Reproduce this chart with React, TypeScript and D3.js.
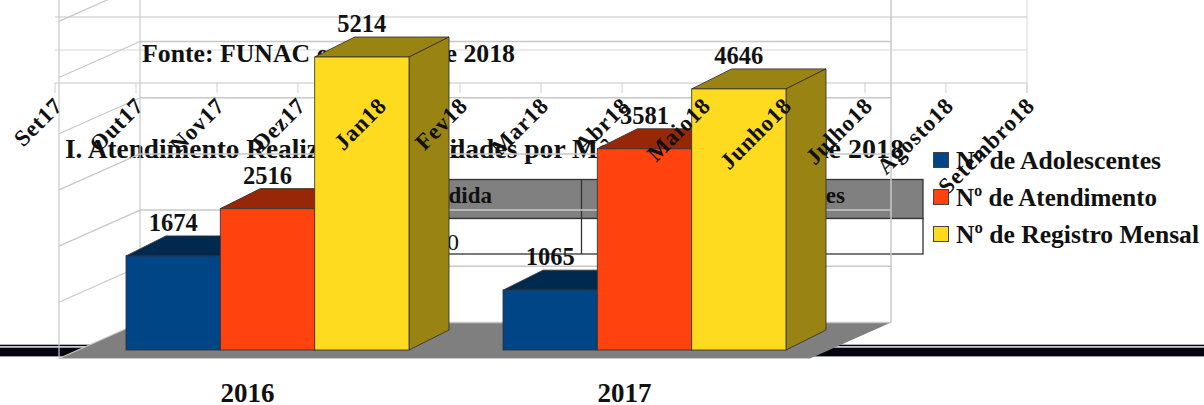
import React from "react";
import * as d3 from "d3";

const years = ["2016", "2017"];
const seriesNames = ["Nº de Adolescentes", "Nº de Atendimento", "Nº de Registro Mensal"];
const seriesColors = ["#004586", "#ff420e", "#ffdb20"];
const legendWidths = [205, 201, 243];
const values2016 = [1674, 2516, 5214];
const values2017 = [1065, 3581, 4646];
const valuesByYear = [values2016, values2017];
const gridValues = [0, 1000, 2000, 3000, 4000, 5000, 6000, 7000];
const monthLabels = ["Set17", "Out17", "Nov17", "Dez17", "Jan18", "Fev18", "Mar18", "Abr18", "Maio18", "Junho18", "Julho18", "Agosto18", "Setembro18"];
const backChartGrid = [17, 50, 83];
const sourceText = "Fonte: FUNAC em Junho de 2018";
const titleParts = ["I. Atendimento Realizado nas Uni", "dades por Mês", "Junho de 2018"];
const tableHeaders = ["Medida", "Adolescentes"];

const FONT = "'Liberation Serif', serif";
const GRID = "#c8c8c8";

const y = d3.scaleLinear().domain([0, 5214]).range([350, 57]);
const x0 = d3.scaleBand().domain(years).range([79, 833]);
const x1 = d3.scaleBand().domain(seriesNames).range([0, 283]);
const monthX = d3.scalePoint().domain(monthLabels).range([55, 1027]);
const DX = 40, DY = -20;
const wallOffset = 27.5;
const backY = (v: number) => y(v) - wallOffset;

const darker = (c: string) => d3.rgb(c).darker(1.45).formatHex();

export default function App() {
  const W0 = 59, W1 = 140, W2 = 891, WF = 810;
  const floorY = backY(0), frontY = floorY + 36;
  return (
    <svg width={1204} height={405} style={{ position: "absolute", left: 0, top: 0, display: "block", background: "#fff" }} fontFamily={FONT}>
      <rect x={0} y={344.7} width={1204} height={1.5} fill="#05050f" />
      <rect x={0} y={347.6} width={1204} height={8.8} fill="#05050f" />

      {backChartGrid.map((g, i) => (
        <line key={g} x1={55} x2={1027} y1={g} y2={g} stroke="#d8d8d8" strokeWidth={i === 1 ? 1 : 1.5} />
      ))}
      <line x1={1027} x2={1027} y1={0} y2={93} stroke="#d8d8d8" />
      {monthLabels.map((m) => (
        <line key={m} x1={monthX(m)} x2={monthX(m)} y1={83} y2={93} stroke="#d0d0d0" />
      ))}

      <rect x={400} y={179.5} width={523} height={39} fill="#808080" stroke="#333" strokeWidth={1.3} />
      <rect x={400} y={218.5} width={523} height={35.5} fill="#fff" stroke="#333" strokeWidth={1.3} />
      <line x1={581.5} x2={581.5} y1={179} y2={254} stroke="#333" strokeWidth={1.3} />
      <text x={492} y={203} textAnchor="end" fontSize={23} fontWeight="bold" fill="#111">{tableHeaders[0]}</text>
      <text x={845} y={203} textAnchor="end" fontSize={23} fontWeight="bold" fill="#111">{tableHeaders[1]}</text>
      <text x={459} y={250} textAnchor="end" fontSize={24} fill="#111">0</text>

      <text x={142} y={62} fontSize={26} fontWeight="bold" fill="#111" textLength={373} lengthAdjust="spacingAndGlyphs">{sourceText}</text>
      <text x={65} y={158} fontSize={28} fontWeight="bold" fill="#111" textLength={392} lengthAdjust="spacingAndGlyphs">{titleParts[0]}</text>
      <text x={450} y={158} fontSize={28} fontWeight="bold" fill="#111" textLength={171} lengthAdjust="spacingAndGlyphs">{titleParts[1]}</text>
      <text x={904} y={158} textAnchor="end" fontSize={28} fontWeight="bold" fill="#111">{titleParts[2]}</text>

      <polygon points={`${W0},${frontY} ${W1},${floorY} ${W2},${floorY} ${WF},${frontY}`} fill="#7f7f7f" />
      <line x1={W0} x2={W0} y1={0} y2={frontY} stroke={GRID} strokeWidth={1.2} />
      <line x1={W1} x2={W1} y1={0} y2={floorY} stroke={GRID} strokeWidth={1.2} />
      <line x1={W2} x2={W2} y1={0} y2={floorY} stroke={GRID} strokeWidth={1.5} />
      <line x1={W0} x2={WF} y1={frontY} y2={frontY} stroke={GRID} />
      {gridValues.map((v) => (
        <g key={v}>
          <line x1={W1} x2={W2} y1={backY(v)} y2={backY(v)} stroke={GRID} strokeWidth={1.5} />
          <line x1={W0} x2={W1} y1={backY(v) + 36} y2={backY(v)} stroke={GRID} strokeWidth={1.2} />
        </g>
      ))}

      {years.map((yr, yi) =>
        seriesNames.map((s, si) => {
          const v = valuesByYear[yi][si];
          const x = (x0(yr) as number) + (x0.bandwidth() - 283) / 2 + (x1(s) as number);
          const w = x1.bandwidth();
          const t = y(v), b = y(0);
          const c = seriesColors[si];
          return (
            <g key={yr + s} stroke="#333" strokeWidth={1} strokeOpacity={0.85}>
              <polygon points={`${x},${t} ${x + DX},${t + DY} ${x + w + DX},${t + DY} ${x + w},${t}`} fill={darker(c)} />
              <polygon points={`${x + w},${t} ${x + w + DX},${t + DY} ${x + w + DX},${b + DY} ${x + w},${b}`} fill={darker(c)} />
              <rect x={x} y={t} width={w} height={b - t} fill={c} />
            </g>
          );
        })
      )}

      {years.map((yr, yi) =>
        seriesNames.map((s, si) => {
          const v = valuesByYear[yi][si];
          const x = (x0(yr) as number) + (x0.bandwidth() - 283) / 2 + (x1(s) as number) + x1.bandwidth() / 2;
          return (
            <text key={yr + s} x={x} y={y(v) - 25} textAnchor="middle" fontSize={24.5} fontWeight="bold" fill="#111">{v}</text>
          );
        })
      )}

      {monthLabels.map((m) => (
        <text key={m} transform={`translate(${(monthX(m) as number) + 9},${107}) rotate(-45)`} textAnchor="end" fontSize={23} letterSpacing={0.8} fontWeight="bold" fill="#111">{m}</text>
      ))}

      {years.map((yr) => (
        <text key={yr} x={(x0(yr) as number) + x0.bandwidth() / 2 - 20} y={402} textAnchor="middle" fontSize={27} fontWeight="bold" fill="#111">{yr}</text>
      ))}

      {seriesNames.map((s, i) => (
        <g key={s}>
          <rect x={933.5} y={152.5 + i * 37} width={15} height={15} fill={seriesColors[i]} stroke="#444" />
          <text x={956} y={169 + i * 37} fontSize={26} fontWeight="bold" fill="#111" textLength={legendWidths[i]} lengthAdjust="spacingAndGlyphs">{s}</text>
        </g>
      ))}
    </svg>
  );
}
